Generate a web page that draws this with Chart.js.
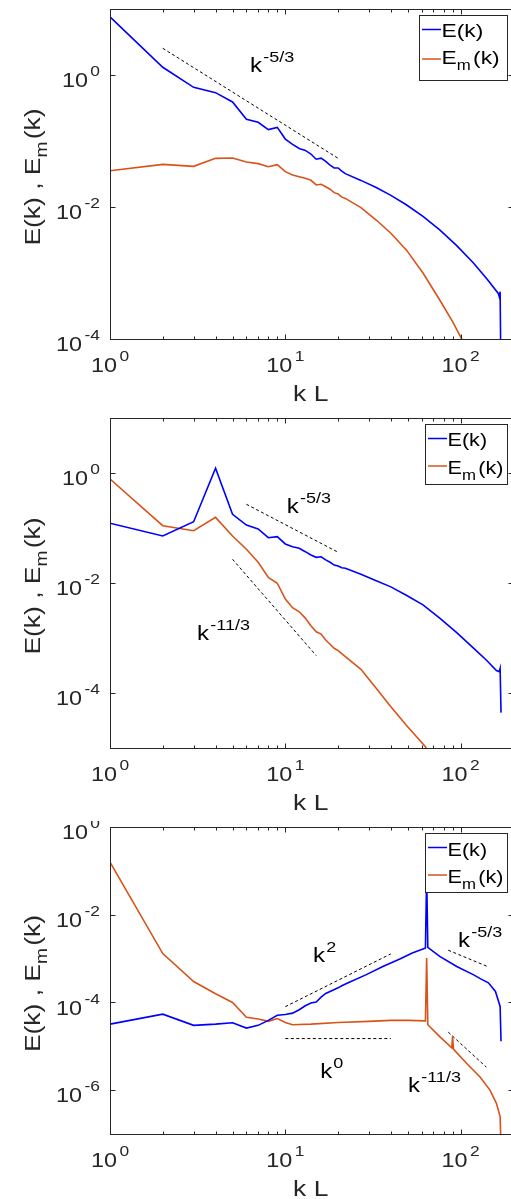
<!DOCTYPE html>
<html>
<head>
<meta charset="utf-8">
<script src="https://cdn.jsdelivr.net/npm/chart.js@4.4.1/dist/chart.umd.min.js"></script>
<style>
    html, body { margin: 0; padding: 0; background: #fff; overflow: hidden; }
    body { width: 511px; height: 1199px; position: relative; }
    canvas { position: absolute; left: 0; }
</style>
</head>
<body>
<canvas id="c1" width="520" height="405" style="top:0px"></canvas>
<canvas id="c2" width="520" height="414" style="top:400px"></canvas>
<canvas id="c3" width="520" height="378" style="top:821px"></canvas>
<script>
// ---- panel 1 ----
const p1K  = [1,2,3,4,5,6,7,8,9,10,11,12,13,14,15,16,17,18,19,20,21,22,27,33,40,49,61,76,95,118,141,164,166,168,170];
const p1E  = [7.6,1.31,0.65,0.54,0.39,0.213,0.192,0.149,0.161,0.107,0.089,0.077,0.072,0.0635,0.053,0.055,0.049,0.043,0.039,0.039,0.035,0.032,
              0.0253,0.0197,0.0150,0.0108,0.0072,0.0045,0.0026,0.00143,0.00082,0.00049,0.00044,0.00052,0.00002];
const p1EmK = [1,2,3,4,5,6,7,8,9,10,11,12,13,14,15,16,17,18,19,20,21,22,27,33,40,49,61,76,90,101,110];
const p1Em  = [0.0355,0.0443,0.0413,0.0546,0.0552,0.048,0.0454,0.0408,0.0438,0.0343,0.0305,0.0288,0.0272,0.0254,0.0216,0.0221,0.0203,0.0186,0.0165,0.0158,0.0141,0.0135,
               0.0098,0.00635,0.0040,0.00224,0.0010,0.00039,0.000183,0.000102,0.00006];
const p1RefK = [2, 20];
const p1RefE = [2.54, 0.0547];
const p1NoteK = [6.29];
const p1NoteE = [1.11];
const p1NoteSup = ['-5/3'];

// ---- panel 2 ----
const p2K  = [1,2,3,4,5,6,7,8,9,10,11,12,13,14,15,16,17,18,19,20,21,22,27,33,40,49,61,76,95,118,141,160,166,168,170];
const p2E  = [0.122,0.0716,0.130,1.22,0.177,0.113,0.096,0.0667,0.0695,0.0513,0.0457,0.0427,0.0371,0.0323,0.0293,0.030,0.0263,0.0238,0.0212,0.0204,0.019,0.0186,
              0.0144,0.011,0.0085,0.006,0.0040,0.0023,0.00125,0.00066,0.00039,0.000257,0.000245,0.00028,0.000044];
const p2EmK = [1,2,3,4,5,6,7,8,9,10,11,12,13,14,15,16,17,18,19,20,22,27,33,40,49,63,70];
const p2Em  = [0.778,0.110,0.089,0.156,0.0716,0.041,0.0238,0.0126,0.0099,0.0051,0.00355,0.0030,0.0023,0.00167,0.0013,0.00118,0.00092,0.00077,0.00065,0.00059,
               0.00046,0.00027,0.000122,0.000056,0.000026,0.0000105,0.000006];
const p2Ref53K  = [6, 20];
const p2Ref53E  = [0.27, 0.0362];
const p2Ref113K = [5, 15];
const p2Ref113E = [0.027, 0.00048];
const p2NoteK = [10.2, 3.14];
const p2NoteE = [0.187, 0.00092];
const p2NoteSup = ['-5/3', '-11/3'];

// ---- panel 3 ----
const p3K  = [1,2,3,4,5,6,7,8,9,10,11,12,13,14,15,16,17,18,20,21,23,29,36,45,53,61,63,64,65,76,95,118,131,144,158,168,170];
const p3E  = [3.2e-5,5.4e-5,3.0e-5,3.2e-5,3.45e-5,2.6e-5,3.0e-5,3.9e-5,5.1e-5,5.3e-5,5.7e-5,6.8e-5,8.4e-5,9.7e-5,1.02e-4,1.32e-4,1.6e-4,1.78e-4,
              2.15e-4,2.4e-4,2.85e-4,4.3e-4,6.6e-4,9.8e-4,1.34e-3,1.66e-3,1.74e-3,0.08,1.8e-3,1.12e-3,6.6e-4,4.3e-4,3.4e-4,2.8e-4,1.78e-4,8.1e-5,1.3e-5];
const p3EmK = [1,2,3,4,5,6,7,8,9,10,11,12,14,20,30,40,50,63,64,65,76,89,90,91,108,129,147,160,168,170];
const p3Em  = [0.158,1.3e-3,3.0e-4,1.58e-4,1.0e-4,4.6e-5,4.2e-5,3.7e-5,4.3e-5,3.5e-5,3.1e-5,3.15e-5,
               3.2e-5,3.5e-5,3.7e-5,3.9e-5,3.9e-5,3.8e-5,1.03e-3,3.1e-5,1.66e-5,9.2e-6,1.7e-5,8.6e-6,4.1e-6,2.0e-6,1.0e-6,5.0e-7,2.5e-7,5e-8];
const p3Ref2K   = [10, 40];
const p3Ref2E   = [8e-5, 1.28e-3];
const p3Ref0K   = [10, 40];
const p3Ref0E   = [1.5e-5, 1.5e-5];
const p3Ref53K  = [85, 145];
const p3Ref53E  = [1.55e-3, 6.4e-4];
const p3Ref113K = [85, 140];
const p3Ref113E = [2.1e-5, 3.36e-6];
const p3NoteK = [14.4, 15.8, 96.7, 50.1];
const p3NoteE = [8.5e-4, 1.9e-6, 1.87e-3, 8.9e-7];
const p3NoteSup = ['2', '0', '-5/3', '-11/3'];

// ---- axes ----
const xMin = 1, xMax = 200;
const xTickExps = [0, 1, 2];
const p1YTickExps = [0, -2, -4];
const p2YTickExps = [0, -2, -4];
const p3YTickExps = [0, -2, -4, -6];

const FONT = '"Liberation Sans", Arial, Helvetica, sans-serif';
const SX = 1.2;               // matlab text renders wider than Liberation Sans
const AXIS_COLOR = '#262626';
const BLUE = '#0000ff';
const ORANGE = '#d95319';

function pts(ks, es) {
    return ks.map((k, i) => ({ x: k, y: es[i] }));
}

function series(label, ks, es, color) {
    return { label, data: pts(ks, es), borderColor: color, borderWidth: 1.6, pointRadius: 0, tension: 0, fill: false };
}

function refLine(ks, es) {
    return { label: '', data: pts(ks, es), borderColor: '#000', borderWidth: 1, borderDash: [3, 2.5], pointRadius: 0, fill: false };
}

// draws a run of text pieces (base / super / sub) with the same baseline
function drawParts(ctx, parts, x, y, align, rot) {
    ctx.save();
    ctx.translate(x, y);
    if (rot) ctx.rotate(rot);
    ctx.scale(SX, 1);
    ctx.textBaseline = 'alphabetic';
    ctx.textAlign = 'left';
    const widths = parts.map(p => {
        ctx.font = p.size + 'px ' + FONT;
        return ctx.measureText(p.t).width;
    });
    let total = 0;
    parts.forEach((p, i) => total += widths[i] + (p.gap || 0));
    let cx = align === 'center' ? -total / 2 : (align === 'right' ? -total : 0);
    parts.forEach((p, i) => {
        cx += p.gap || 0;
        ctx.font = p.size + 'px ' + FONT;
        ctx.fillText(p.t, cx, p.dy || 0);
        cx += widths[i];
    });
    ctx.restore();
}

function powParts(exp) {
    return [{ t: '10', size: 19.5 }, { t: String(exp), size: 14.5, dy: -11, gap: 2 }];
}

function emParts(size, subSize, subDy) {
    return [{ t: 'E', size }, { t: 'm', size: subSize, dy: subDy }, { t: '(k)', size, gap: 2 }];
}

function panelPlugin(p) {
    return {
        id: 'matlabAxes',
        afterDraw(chart) {
            const ctx = chart.ctx;
            const xs = chart.scales.x, ys = chart.scales.y;
            const a = chart.chartArea;
            const L = Math.round(a.left) + 0.5, R = Math.round(a.right) + 0.5;
            const T = Math.round(a.top) + 0.5, B = Math.round(a.bottom) + 0.5;

            ctx.save();
            ctx.strokeStyle = AXIS_COLOR;
            ctx.lineWidth = 1;
            ctx.beginPath();
            // x ticks, inward, bottom and top
            xTickExps.forEach(e => {
                for (let m = 1; m <= 9; m++) {
                    const v = m * Math.pow(10, e);
                    if (v > xMax) continue;
                    const px = Math.round(xs.getPixelForValue(v)) + 0.5;
                    const len = m === 1 ? 5 : 3;
                    ctx.moveTo(px, B); ctx.lineTo(px, B - len);
                    ctx.moveTo(px, T); ctx.lineTo(px, T + len);
                }
            });
            // y ticks, left and right
            p.yExps.forEach(e => {
                const py = Math.round(ys.getPixelForValue(Math.pow(10, e))) + 0.5;
                ctx.moveTo(L, py); ctx.lineTo(L + 5, py);
                ctx.moveTo(R, py); ctx.lineTo(R - 5, py);
            });
            ctx.stroke();
            ctx.strokeRect(L, T, R - L, B - T);

            // tick labels
            ctx.fillStyle = AXIS_COLOR;
            xTickExps.forEach(e => {
                drawParts(ctx, powParts(e), xs.getPixelForValue(Math.pow(10, e)), a.bottom + 33, 'center');
            });
            p.yExps.forEach(e => {
                drawParts(ctx, powParts(e), a.left - 10, ys.getPixelForValue(Math.pow(10, e)) + 12.3, 'right');
            });

            // axis titles
            drawParts(ctx, [{ t: 'k L', size: 22 }], (a.left + a.right) / 2 - 1, a.bottom + 62, 'center');
            drawParts(ctx, [{ t: 'E(k) , ', size: 22 }].concat(emParts(22, 16, 7)),
                39.5, (a.top + a.bottom) / 2 + 3, 'center', -Math.PI / 2);

            // power-law labels
            ctx.fillStyle = '#000';
            p.noteK.forEach((k, i) => {
                drawParts(ctx, [{ t: 'k', size: 20 }, { t: p.noteSup[i], size: 15, dy: -10, gap: 1 }],
                    xs.getPixelForValue(k), ys.getPixelForValue(p.noteE[i]), 'left');
            });

            // legend box, drawn over the data
            const lg = p.legend;
            ctx.fillStyle = '#fff';
            ctx.fillRect(lg.left, lg.top, lg.w, lg.h);
            ctx.strokeStyle = AXIS_COLOR;
            ctx.strokeRect(lg.left + 0.5, lg.top + 0.5, lg.w, lg.h);
            ctx.lineWidth = 1.5;
            [[BLUE, lg.row1], [ORANGE, lg.row2]].forEach(([c, r]) => {
                ctx.strokeStyle = c;
                ctx.beginPath();
                ctx.moveTo(lg.left + 3, r.line);
                ctx.lineTo(lg.left + 22, r.line);
                ctx.stroke();
            });
            ctx.fillStyle = '#000';
            drawParts(ctx, [{ t: 'E(k)', size: lg.font }], lg.left + 22.5, lg.row1.base, 'left');
            drawParts(ctx, emParts(lg.font, 14, 6), lg.left + 22.5, lg.row2.base, 'left');
            ctx.restore();
        }
    };
}

function makeChart(id, p) {
    const ctx = document.getElementById(id).getContext('2d');
    const canvasH = ctx.canvas.height;
    return new Chart(ctx, {
        type: 'line',
        data: { datasets: p.datasets },
        options: {
            responsive: false,
            animation: false,
            devicePixelRatio: 1,
            layout: { padding: { top: p.padTop, right: 520 - 513.4, left: 0, bottom: 0 } },
            plugins: { legend: { display: false }, tooltip: { enabled: false } },
            scales: {
                x: {
                    type: 'logarithmic', min: xMin, max: xMax,
                    ticks: { display: false }, grid: { display: false }, border: { display: false },
                    afterFit: s => { s.height = canvasH - p.bottom; }
                },
                y: {
                    type: 'logarithmic', min: p.yMin, max: p.yMax,
                    ticks: { display: false }, grid: { display: false }, border: { display: false },
                    afterFit: s => { s.width = 110; }
                }
            }
        },
        plugins: [panelPlugin(p)]
    });
}

makeChart('c1', {
    padTop: 9, bottom: 339, yMin: 1e-4, yMax: 1e1, yExps: p1YTickExps,
    noteK: p1NoteK, noteE: p1NoteE, noteSup: p1NoteSup,
    legend: { left: 419, top: 15, w: 88, h: 65, font: 19, row1: { line: 29.5, base: 36.5 }, row2: { line: 59, base: 63.5 } },
    datasets: [
        series('E(k)', p1K, p1E, BLUE),
        series('Em(k)', p1EmK, p1Em, ORANGE),
        refLine(p1RefK, p1RefE)
    ]
});

makeChart('c2', {
    padTop: 18, bottom: 348, yMin: 1e-5, yMax: 1e1, yExps: p2YTickExps,
    noteK: p2NoteK, noteE: p2NoteE, noteSup: p2NoteSup,
    legend: { left: 425, top: 24, w: 82, h: 60, font: 18, row1: { line: 38.5, base: 45.5 }, row2: { line: 66, base: 74 } },
    datasets: [
        series('E(k)', p2K, p2E, BLUE),
        series('Em(k)', p2EmK, p2Em, ORANGE),
        refLine(p2Ref53K, p2Ref53E),
        refLine(p2Ref113K, p2Ref113E)
    ]
});

makeChart('c3', {
    padTop: 6, bottom: 313, yMin: 1e-7, yMax: 1e0, yExps: p3YTickExps,
    noteK: p3NoteK, noteE: p3NoteE, noteSup: p3NoteSup,
    legend: { left: 425, top: 12, w: 82, h: 59, font: 18, row1: { line: 26.5, base: 35 }, row2: { line: 54, base: 62 } },
    datasets: [
        series('E(k)', p3K, p3E, BLUE),
        series('Em(k)', p3EmK, p3Em, ORANGE),
        refLine(p3Ref2K, p3Ref2E),
        refLine(p3Ref0K, p3Ref0E),
        refLine(p3Ref53K, p3Ref53E),
        refLine(p3Ref113K, p3Ref113E)
    ]
});
</script>
</body>
</html>
